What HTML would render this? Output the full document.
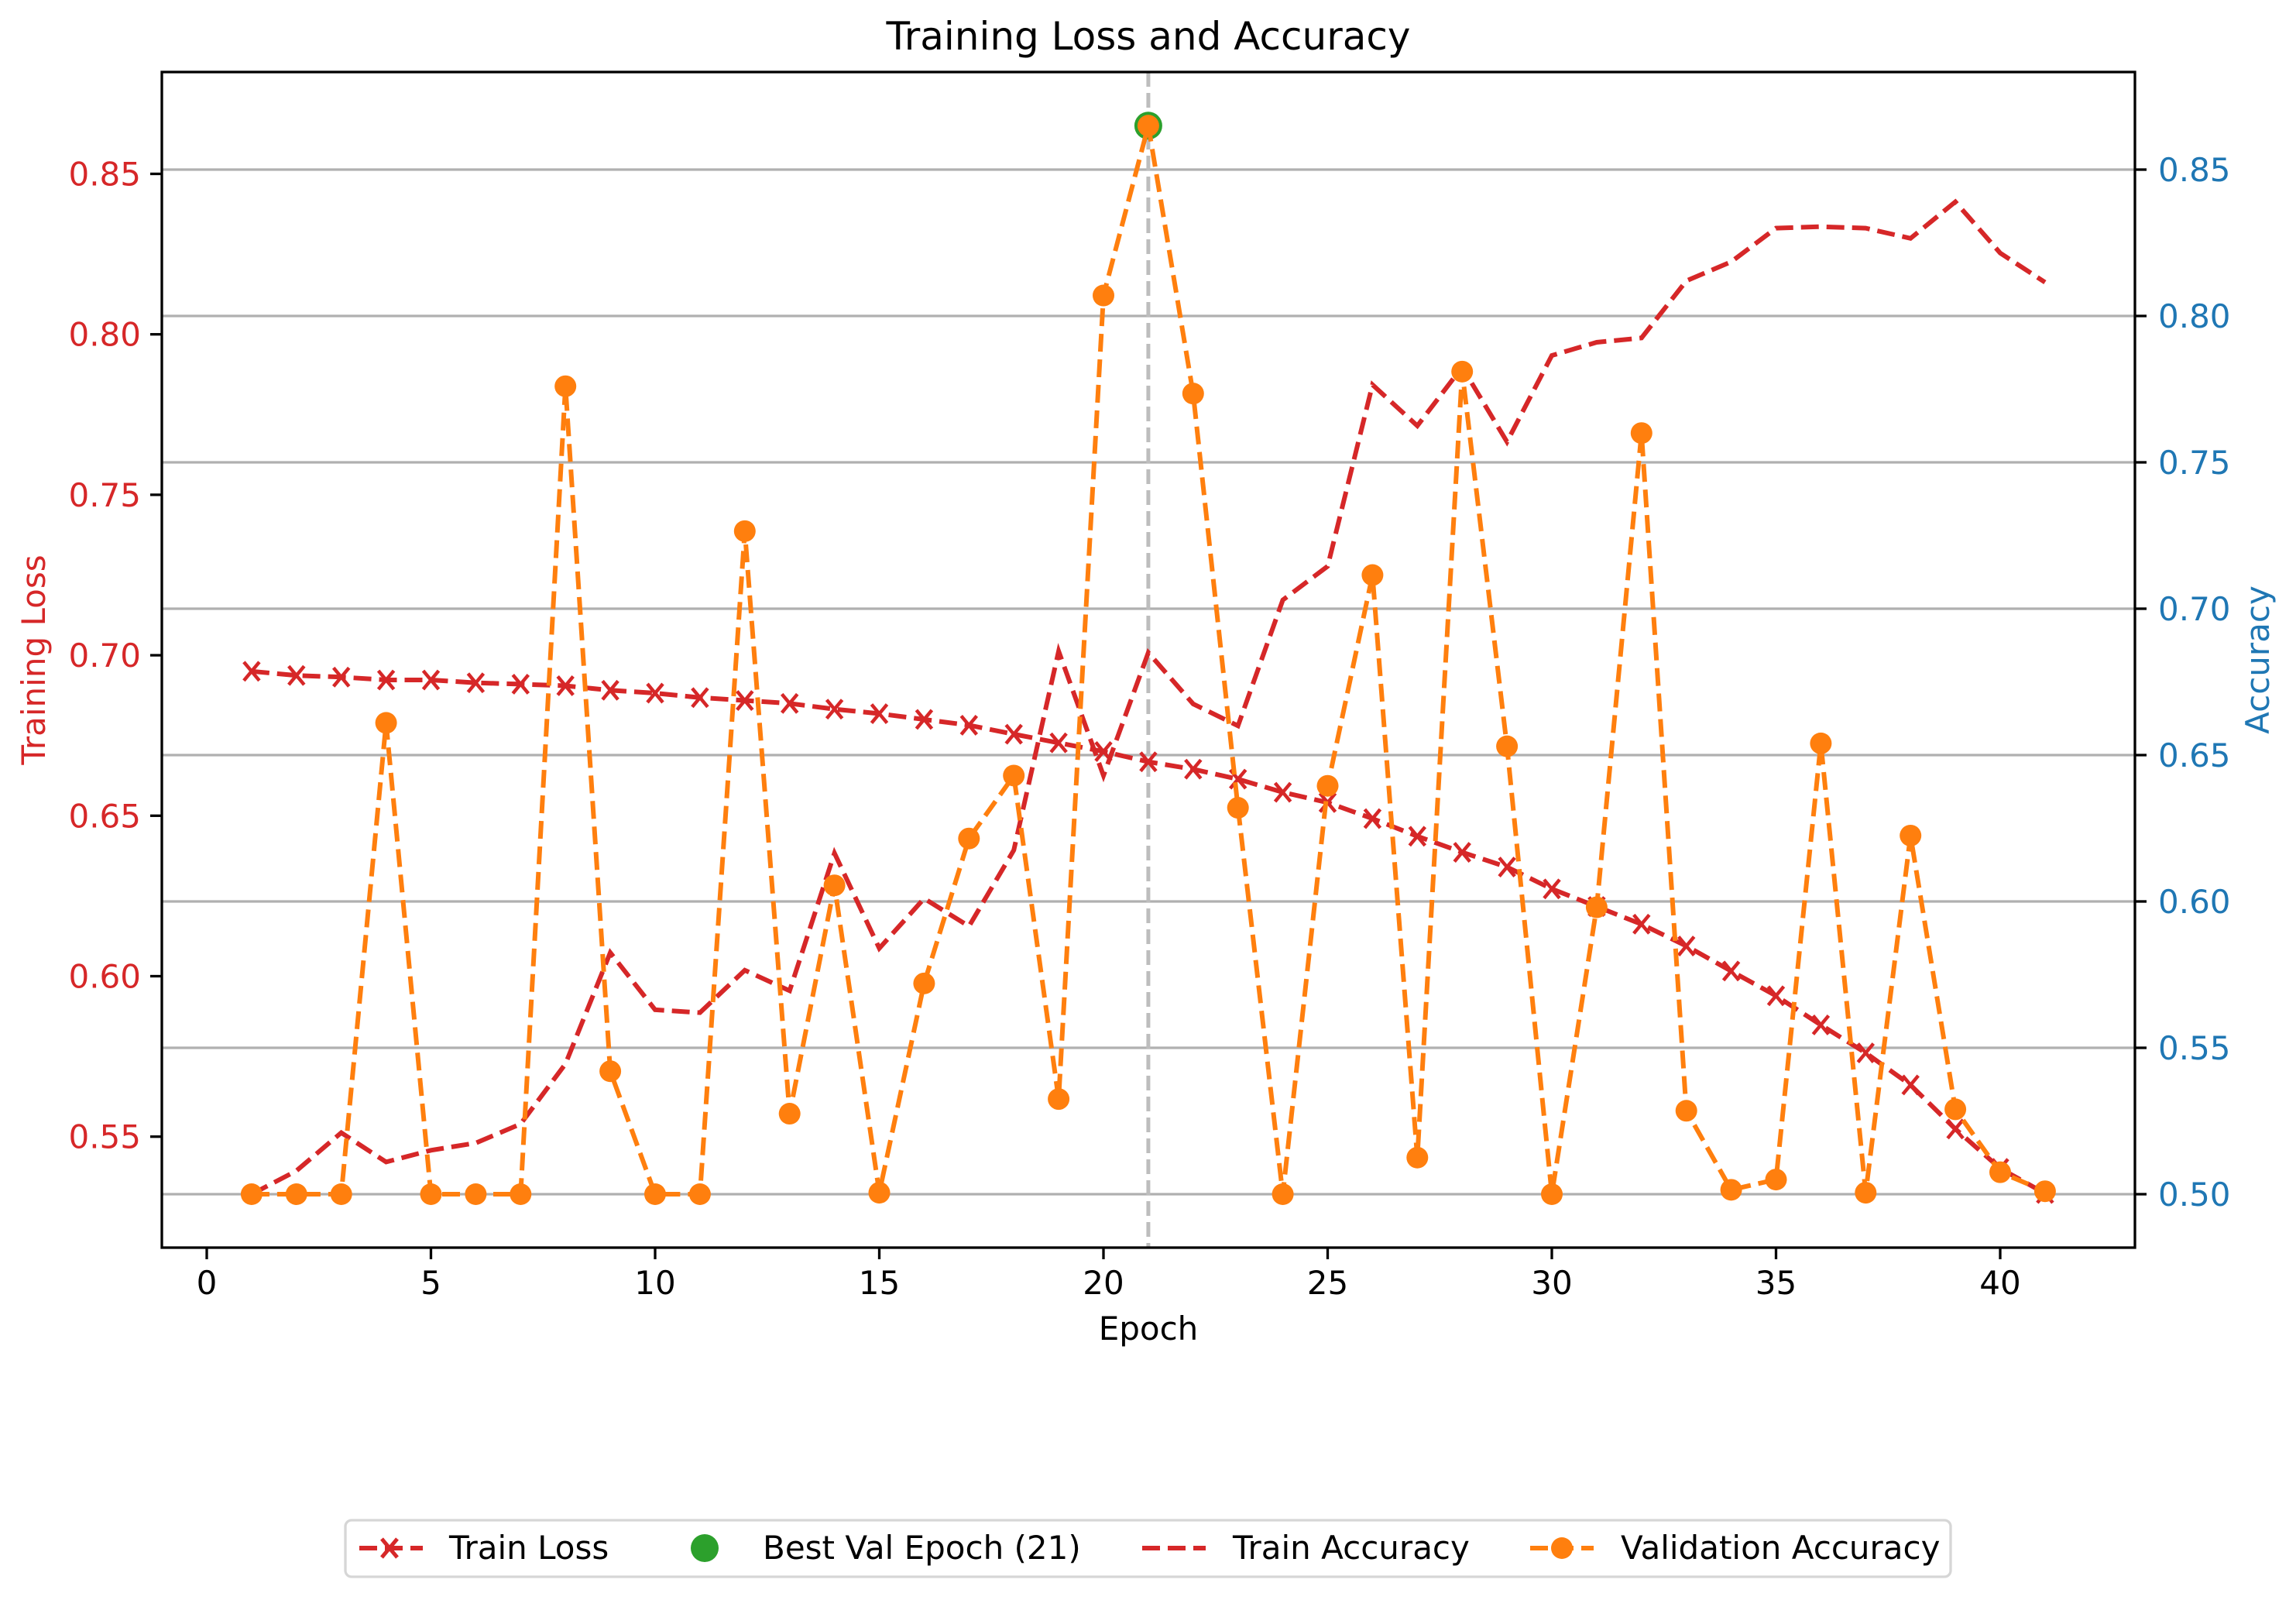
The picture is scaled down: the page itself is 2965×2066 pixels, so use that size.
<!DOCTYPE html>
<html><head><meta charset="utf-8">
<style>
html,body{margin:0;padding:0;background:#fff;}
svg{display:block;font-family:"DejaVu Sans","Liberation Sans",sans-serif;}
</style></head>
<body>
<svg id="chart" width="2965" height="2066" viewBox="0 0 2965 2066" xmlns="http://www.w3.org/2000/svg">
<rect width="2965" height="2066" fill="#fff"/>
<text x="1483" y="64" font-size="50" text-anchor="middle" fill="#000">Training Loss and Accuracy</text>
<g id="grid"></g>
<g id="series"></g>
<g id="axes"></g>
<text x="1483" y="1730" font-size="42" text-anchor="middle">Epoch</text>
<text transform="translate(58,852) rotate(-90)" font-size="42" text-anchor="middle" fill="#d62728">Training Loss</text>
<text transform="translate(2930,852) rotate(-90)" font-size="42" text-anchor="middle" fill="#1f77b4">Accuracy</text>
<g>
<rect x="446" y="1963" width="2073" height="73" rx="8" fill="#fff" stroke="#d6d6d6" stroke-width="3.3"/>
<g>
<line x1="464" y1="1999" x2="546" y2="1999" stroke="#d62728" stroke-width="6" stroke-dasharray="23,10"/>
<path d="M493 1987 L513 2011 M513 1987 L493 2011" stroke="#d62728" stroke-width="5"/>
<text x="580" y="2013" font-size="42">Train Loss</text></g>
<g>
<circle cx="910" cy="1999" r="18" fill="#2ca02c"/>
<text x="985" y="2013" font-size="42">Best Val Epoch (21)</text></g>
<g>
<line x1="1475" y1="1999" x2="1557" y2="1999" stroke="#d62728" stroke-width="6" stroke-dasharray="23,10"/>
<text x="1592" y="2013" font-size="42">Train Accuracy</text></g>
<g>
<line x1="1976" y1="1999" x2="2058" y2="1999" stroke="#ff7f0e" stroke-width="6" stroke-dasharray="23,10"/>
<circle cx="2017" cy="1999" r="14" fill="#ff7f0e"/>
<text x="2093" y="2013" font-size="42">Validation Accuracy</text></g>
</g>
</svg>
<script>
const epochs = [1,2,3,4,5,6,7,8,9,10,11,12,13,14,15,16,17,18,19,20,21,22,23,24,25,26,27,28,29,30,31,32,33,34,35,36,37,38,39,40,41];
const trainLoss = [0.695,0.6937,0.6932,0.6923,0.6923,0.6914,0.691,0.6905,0.6891,0.6882,0.6868,0.6859,0.685,0.6832,0.6818,0.68,0.6782,0.6754,0.6727,0.67,0.6668,0.6645,0.6614,0.6573,0.6541,0.6491,0.6436,0.6386,0.634,0.6272,0.6217,0.6162,0.6094,0.6016,0.5939,0.5848,0.5761,0.5661,0.5524,0.5401,0.5323];
const trainAcc = [0.5,0.508,0.521,0.511,0.515,0.5175,0.524,0.5445,0.5825,0.563,0.562,0.5765,0.5695,0.6165,0.584,0.601,0.5915,0.6175,0.6855,0.643,0.685,0.6675,0.66,0.703,0.7145,0.7765,0.7625,0.7825,0.757,0.7865,0.791,0.7925,0.812,0.8185,0.83,0.8305,0.83,0.8265,0.839,0.8215,0.8115];
const valAcc = [0.5,0.5,0.5,0.661,0.5,0.5,0.5,0.776,0.542,0.5,0.5,0.7265,0.5275,0.6055,0.5005,0.572,0.6215,0.643,0.5325,0.807,0.865,0.7735,0.632,0.5,0.6395,0.7115,0.5125,0.781,0.653,0.5,0.598,0.76,0.5285,0.5015,0.505,0.654,0.5005,0.6225,0.529,0.5075,0.501];
const bestEpoch = 21;
const xTicks = [0,5,10,15,20,25,30,35,40];
const lossTicks = [0.55,0.60,0.65,0.70,0.75,0.80,0.85];
const accTicks = [0.50,0.55,0.60,0.65,0.70,0.75,0.80,0.85];

const L=209, R=2757, T=93, B=1611;
const NS='http://www.w3.org/2000/svg';
function X(e){return 267 + e*57.9;}
function YL(v){return 224.5 + (0.85 - v)*4144;}
function YA(v){return 219 + (0.85 - v)*3780;}
function mk(tag, attrs, parent){const el=document.createElementNS(NS,tag);for(const k in attrs)el.setAttribute(k,attrs[k]);parent.appendChild(el);return el;}
const grid=document.getElementById('grid'), series=document.getElementById('series'), axes=document.getElementById('axes');

accTicks.forEach(t=>{
  const g=mk('line',{x1:L,x2:R,y1:YA(t),y2:YA(t),stroke:'#b0b0b0','stroke-width':3.3},grid);
  
  
});
const vl=mk('line',{x1:X(bestEpoch),x2:X(bestEpoch),y1:T,y2:B,stroke:'#bdbdbd','stroke-width':5,'stroke-dasharray':'19,8'},grid);



function pts(arr,f){return arr.map((v,i)=>X(epochs[i]).toFixed(1)+','+f(v).toFixed(1)).join(' ');}
const la=mk('polyline',{points:pts(trainLoss,YL),fill:'none',stroke:'#d62728','stroke-width':6,'stroke-dasharray':'23,10'},series);


trainLoss.forEach((v,i)=>{
  const x=X(epochs[i]),y=YL(v);
  const m=mk('path',{d:`M${x-10} ${y-12} L${x+10} ${y+12} M${x+10} ${y-12} L${x-10} ${y+12}`,stroke:'#d62728','stroke-width':4.5,fill:'none'},series);
  
  
});
const ta=mk('polyline',{points:pts(trainAcc,YA),fill:'none',stroke:'#d62728','stroke-width':6,'stroke-dasharray':'23,10'},series);


const bi=epochs.indexOf(bestEpoch);
const bm=mk('circle',{cx:X(bestEpoch),cy:YA(valAcc[bi]),r:18,fill:'#2ca02c'},series);


const va=mk('polyline',{points:pts(valAcc,YA),fill:'none',stroke:'#ff7f0e','stroke-width':6,'stroke-dasharray':'23,10'},series);


valAcc.forEach((v,i)=>{
  const c=mk('circle',{cx:X(epochs[i]),cy:YA(v),r:14,fill:'#ff7f0e'},series);
  
  
});

const fr=mk('rect',{x:L,y:T,width:R-L,height:B-T,fill:'none',stroke:'#000','stroke-width':3.3},axes);


xTicks.forEach(t=>{
  mk('line',{x1:X(t),x2:X(t),y1:B,y2:B+15,stroke:'#000','stroke-width':3.3},axes);
  const tx=mk('text',{x:X(t),y:B+60,'font-size':42,'text-anchor':'middle'},axes);
  tx.textContent=t;
  
  
});
lossTicks.forEach(t=>{
  mk('line',{x1:L-15,x2:L,y1:YL(t),y2:YL(t),stroke:'#000','stroke-width':3.3},axes);
  const tx=mk('text',{x:L-27,y:YL(t)+15,'font-size':42,'text-anchor':'end',fill:'#d62728'},axes);
  tx.textContent=t.toFixed(2);
  
  
});
accTicks.forEach(t=>{
  mk('line',{x1:R,x2:R+15,y1:YA(t),y2:YA(t),stroke:'#000','stroke-width':3.3},axes);
  const tx=mk('text',{x:R+30,y:YA(t)+15,'font-size':42,'text-anchor':'start',fill:'#1f77b4'},axes);
  tx.textContent=t.toFixed(2);
  
  
});
</script>
</body></html>
